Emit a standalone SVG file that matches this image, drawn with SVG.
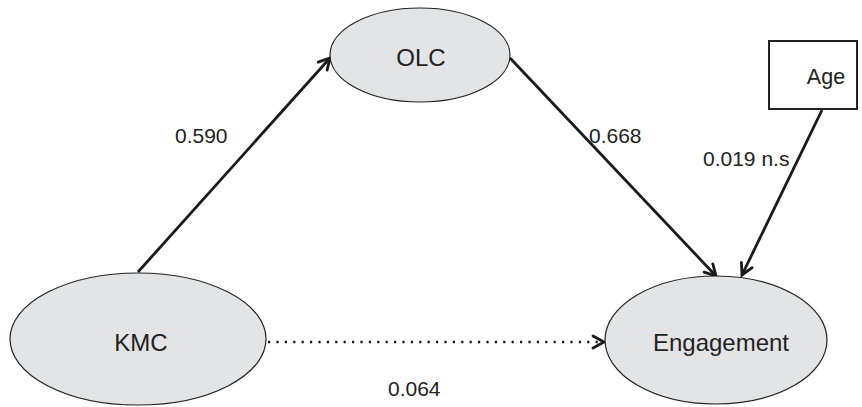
<svg xmlns="http://www.w3.org/2000/svg" width="862" height="407" viewBox="0 0 862 407">
<style>
.node{fill:#e3e4e6;stroke:#222;stroke-width:1.2}
.box{fill:#fff;stroke:#222;stroke-width:2}
.nt{font-family:"Liberation Sans",Arial,sans-serif;font-size:24px;fill:#222;text-anchor:middle;dominant-baseline:central}
.lbl{font-family:"Liberation Sans",Arial,sans-serif;font-size:21px;fill:#222}
.edge{stroke:#1a1a1a;stroke-width:2.8;fill:none}
.dot{stroke:#1a1a1a;stroke-width:2.4;fill:none;stroke-dasharray:2.2 6.2}
</style>
<defs>
<marker id="arr" markerUnits="userSpaceOnUse" markerWidth="16" markerHeight="16" refX="13" refY="8" orient="auto" viewBox="0 0 16 16">
<path d="M2,2 L13,8 L2,14" fill="none" stroke="#1a1a1a" stroke-width="2.8" stroke-linecap="round" stroke-linejoin="miter"/>
</marker>
</defs>
<g id="connectors">
<line class="edge" x1="138" y1="272" x2="330" y2="58" marker-end="url(#arr)"/>
<line class="edge" x1="510" y1="58" x2="716" y2="276" marker-end="url(#arr)"/>
<line class="edge" x1="822" y1="110" x2="742" y2="275" marker-end="url(#arr)"/>
<line class="dot" x1="268" y1="342" x2="604" y2="342" marker-end="url(#arr)"/>
</g>
<g id="OLC">
<ellipse class="node" cx="420" cy="55" rx="90" ry="47"/>
<text class="nt" x="421" y="57">OLC</text>
</g>
<g id="KMC">
<ellipse class="node" cx="138" cy="339" rx="128" ry="66"/>
<text class="nt" x="141" y="342">KMC</text>
</g>
<g id="Engagement">
<ellipse class="node" cx="716" cy="340" rx="111" ry="64"/>
<text class="nt" x="721" y="342">Engagement</text>
</g>
<g id="Age">
<rect class="box" x="769" y="41" width="88" height="68"/>
<text class="nt" x="826" y="77" style="font-size:21.5px">Age</text>
</g>
<g id="labels">
<text class="lbl" x="175" y="143">0.590</text>
<text class="lbl" x="589" y="143">0.668</text>
<text class="lbl" x="703" y="166">0.019 n.s</text>
<text class="lbl" x="388" y="396">0.064</text>
</g>
</svg>
